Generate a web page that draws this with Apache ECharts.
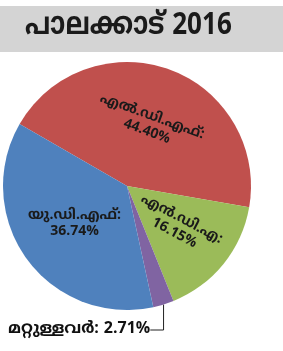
<!DOCTYPE html>
<html>
<head>
<meta charset="utf-8">
<script src="https://cdn.jsdelivr.net/npm/echarts@6/dist/echarts.min.js"></script>
<style>
  html, body { margin: 0; padding: 0; background: #fff; }
  #main { width: 283px; height: 351px; }
</style>
</head>
<body>
<div id="main"></div>
<script>
// ഡാറ്റ
var titleText = 'പാലക്കാട് 2016';
var parties = ['എൽ.ഡി.എഫ്:', 'എൻ.ഡി.എ:', 'മറ്റുള്ളവർ:', 'യു.ഡി.എഫ്:'];
var shares = [44.40, 16.15, 2.71, 36.74];
var colors = ['#c0504d', '#9bbb59', '#8064a2', '#4f81bd'];

var font = '"Noto Sans Malayalam", "Noto Sans", sans-serif';

var chart = echarts.init(document.getElementById('main'));

function pct(v) { return v.toFixed(2) + '%'; }

var labelRot = [-20, -28, 0, 0];
var pieData = parties.map(function (p, i) {
    var item = {
        name: p,
        value: shares[i],
        itemStyle: { color: colors[i] },
        label: { rotate: labelRot[i] }
    };
    if (i === 2) {
        // പുറത്ത് ലേബൽ
        item.label = {
            position: 'outside',
            formatter: function (prm) { return prm.name + ' ' + pct(prm.value); },
            fontSize: 16,
            color: '#111',
            rotate: 0
        };
        item.labelLine = { show: true, length: 14, length2: 20, lineStyle: { color: '#222', width: 1 } };
    }
    return item;
});

var option = {
    backgroundColor: '#fff',
    animation: false,
    graphic: [
        {
            type: 'rect',
            shape: { x: 0, y: 6, width: 283, height: 46 },
            style: { fill: '#d4d4d4' },
            z: 0
        },
        {
            type: 'text',
            x: 25,
            y: 13,
            scaleX: 0.84,
            style: {
                text: titleText,
                font: 'bold 31px ' + font,
                fill: '#1a1a1a'
            },
            z: 1
        }
    ],
    series: [{
        type: 'pie',
        center: [127, 186],
        radius: [0, 124],
        startAngle: 150,
        clockwise: true,
        avoidLabelOverlap: false,
        data: pieData,
        label: {
            show: true,
            position: 'inside',
            formatter: function (prm) { return prm.name + '\n' + pct(prm.value); },
            color: '#1a1a1a',
            fontFamily: font,
            fontWeight: 'bold',
            fontSize: 14,
            lineHeight: 16
        },
        labelLine: { show: false },
        labelLayout: function (params) {
            if (params.dataIndex === 2) {
                return { x: 8, y: 330, align: 'left', verticalAlign: 'middle' };
            }
        },
        emphasis: { disabled: true }
    }]
};

chart.setOption(option);
window.onresize = function () { chart.resize(); };
</script>
</body>
</html>
